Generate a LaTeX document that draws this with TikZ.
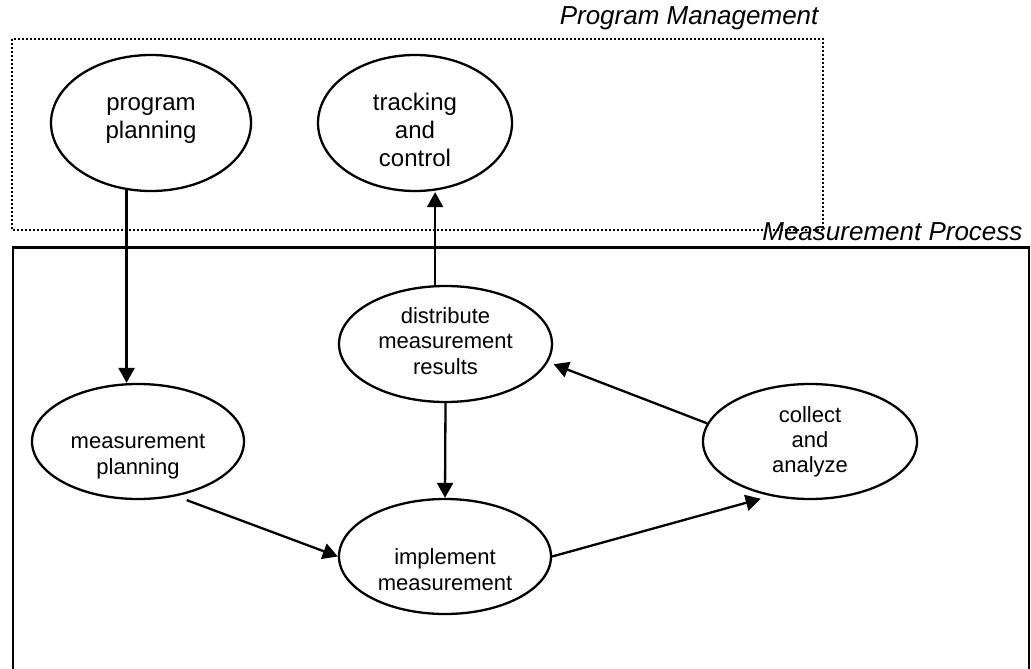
\documentclass[tikz,border=0pt]{standalone}
\usepackage{fontspec}
\setmainfont{Liberation Sans}
\usetikzlibrary{shapes.geometric,arrows.meta}

\begin{document}
\begin{tikzpicture}[x=1pt,y=-1pt,
  activity/.style={ellipse,draw,line width=2.3pt,inner sep=0pt,align=center,
    text depth=0pt,font=\fontsize{22}{25.3}\selectfont},
  bigactivity/.style={activity,font=\fontsize{24}{27.6}\selectfont},
  flow/.style={-{Triangle[length=15pt,width=16pt]},line width=2.3pt},
  boxtitle/.style={anchor=base east,font=\fontsize{26}{30}\selectfont\itshape}]

\useasboundingbox (0,0) rectangle (1031,669);

\draw[line width=1.8pt,dash pattern=on 1.8pt off 2.2pt] (12,39) rectangle (823,230);
\node[boxtitle] (mgmt) at (822,25) {Program Management};

\draw[line width=2.3pt] (13,680) -- (13,247.5) -- (1029,247.5) -- (1029,680);
\node[boxtitle] (proc) at (1026,240) {Measurement Process};

\node[bigactivity,minimum width=200pt,minimum height=136pt,text height=30.6pt] (pp) at (151,123) {program\\planning};
\node[bigactivity,minimum width=194pt,minimum height=136pt,text height=86pt] (tc) at (415,123) {tracking\\and\\control};

\node[activity,minimum width=213pt,minimum height=116pt,text height=60pt] (ds) at (445.5,344) {distribute\\measurement\\results};
\node[activity,minimum width=212pt,minimum height=115pt,text height=65pt] (mp) at (138,441.5) {measurement\\planning};
\node[activity,minimum width=212pt,minimum height=115pt,text height=67pt] (im) at (445,556.5) {implement\\measurement};
\node[activity,minimum width=214pt,minimum height=115pt,text height=62.4pt] (ca) at (810,441.5) {collect\\and\\analyze};

\draw[flow] (pp.250) -- (pp.250 |- mp.north);
\draw[flow] (ds.100) -- (ds.100 |- tc.south);
\draw[flow] (ds.south) -- (im.north);
\draw[flow,shorten <=11pt] (mp.-55) -- (im.west);
\draw[flow,shorten >=10pt] (im.east) -- (ca.234);
\draw[flow,shorten >=6pt] (ca.170) -- (ds.-10);

\end{tikzpicture}
\end{document}
